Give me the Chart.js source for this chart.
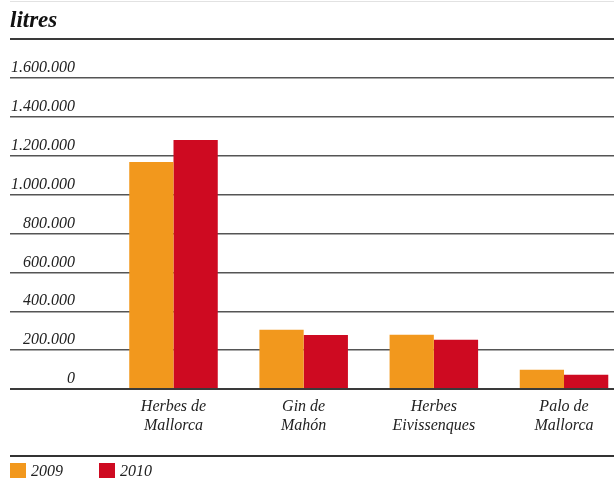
<!DOCTYPE html>
<html>
<head>
<meta charset="utf-8">
<script src="https://cdn.jsdelivr.net/npm/chart.js@4"></script>
<style>
  body { margin: 0; background: #fff; }
  #wrap { width: 614px; height: 479px; position: relative; }
</style>
</head>
<body>
<div id="wrap"><canvas id="graph"></canvas></div>
<script>
// data
const categories = [['Herbes de', 'Mallorca'], ['Gin de', 'Mahón'], ['Herbes', 'Eivissenques'], ['Palo de', 'Mallorca']];
const years = ['2009', '2010'];
const litres2009 = [1168000, 305000, 279000, 99000];
const litres2010 = [1281000, 278000, 253000, 73000];
const yTicks = [0, 200000, 400000, 600000, 800000, 1000000, 1200000, 1400000, 1600000, 1800000];

const orange = '#F2981D';
const red = '#CE0A21';
const serif = '"Liberation Serif", "DejaVu Serif", serif';

function fmt(v) {
  return String(v).replace(/\B(?=(\d{3})+(?!\d))/g, '.');
}

// lines + legend drawn by hand
const decor = {
  id: 'decor',
  afterDraw(chart) {
    const ctx = chart.ctx;
    ctx.save();
    ctx.strokeStyle = '#e2e2e2';
    ctx.lineWidth = 1;
    ctx.beginPath(); ctx.moveTo(10, 1.5); ctx.lineTo(614, 1.5); ctx.stroke();
    ctx.strokeStyle = '#333';
    ctx.lineWidth = 2;
    ctx.beginPath(); ctx.moveTo(10, 456); ctx.lineTo(614, 456); ctx.stroke();

    ctx.font = 'italic 16px ' + serif;
    ctx.textBaseline = 'alphabetic';
    chart.data.datasets.forEach(function (ds, i) {
      const x = 10 + i * 89;
      ctx.fillStyle = ds.backgroundColor;
      ctx.fillRect(x, 463, 16, 15);
      ctx.fillStyle = '#222';
      ctx.fillText(ds.label, x + 21, 476);
    });
    ctx.restore();
  }
};

let data = {
  datasets: [{
    label: years[0],
    data: litres2009.map((v, i) => ({ x: i, y: v })),
    backgroundColor: orange,
  },
  {
    label: years[1],
    data: litres2010.map((v, i) => ({ x: i, y: v })),
    backgroundColor: red,
  }],
};

const config = {
  type: 'bar',
  data,
  options: {
    responsive: true,
    maintainAspectRatio: false,
    animation: false,
    categoryPercentage: 0.68,
    barPercentage: 1,
    layout: { padding: { left: 10, right: 0, top: 0, bottom: 40 } },
    plugins: {
      legend: { display: false },
      tooltip: { enabled: false },
      title: {
        display: true,
        text: 'litres',
        align: 'start',
        color: '#111',
        font: { family: serif, size: 23, style: 'italic', weight: 'bold' },
        padding: { top: 7, bottom: 4.4 }
      }
    },
    scales: {
      x: {
        type: 'linear',
        min: -0.7183,
        max: 3.384,
        offset: false,
        grid: { display: false, drawTicks: false },
        border: { display: false },
        afterBuildTicks: s => { s.ticks = categories.map((c, i) => ({ value: i })); },
        afterFit: s => { s.height = 50; },
        ticks: {
          padding: 9,
          color: '#222',
          maxRotation: 0,
          autoSkip: false,
          font: { family: serif, size: 16, style: 'italic', lineHeight: 1.15 },
          callback: v => categories[v]
        }
      },
      y: {
        min: 0,
        max: 1800000,
        border: { display: false },
        afterBuildTicks: s => { s.ticks = yTicks.map(v => ({ value: v })); },
        afterFit: s => { s.width = 70; },
        grid: {
          drawTicks: true,
          tickLength: 70,
          color: c => (c.tick.value === 0 || c.tick.value === 1800000) ? '#3a3a3a' : '#555',
          lineWidth: c => (c.tick.value === 0 || c.tick.value === 1800000) ? 2 : 1.4
        },
        ticks: {
          padding: -65,
          labelOffset: -10,
          color: '#222',
          font: { family: serif, size: 16, style: 'italic' },
          callback: v => v === 1800000 ? '' : fmt(v)
        }
      }
    }
  },
  plugins: [decor]
};

const dayChart = new Chart(document.getElementById('graph'), config);
</script>
</body>
</html>
